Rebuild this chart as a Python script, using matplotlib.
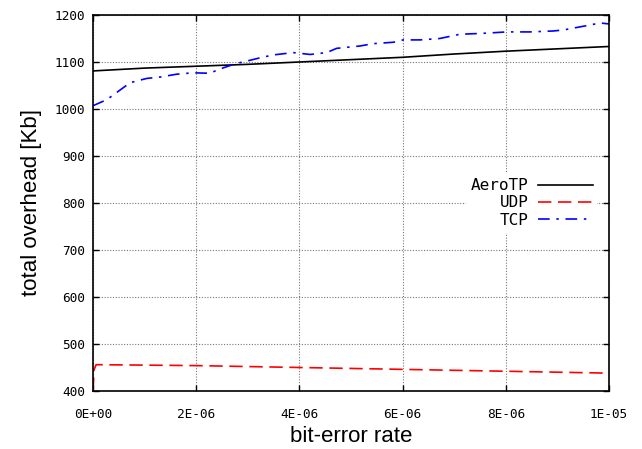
import matplotlib
matplotlib.use('Agg')
import matplotlib.pyplot as plt

aerotp_ber = [0, 1e-6, 2e-6, 3e-6, 4e-6, 5e-6, 6e-6, 7e-6, 8e-6, 9e-6, 1e-5]
aerotp_kb = [1081, 1087, 1091, 1095, 1100, 1105, 1110, 1117, 1123, 1128, 1133]

udp_ber = [0, 0.02e-6, 0.06e-6, 2e-6, 4e-6, 6e-6, 8e-6, 1e-5]
udp_kb = [400, 445, 456, 454, 450, 446, 442, 438]

tcp_ber = [0, 0.27e-6, 0.52e-6, 0.72e-6, 1.04e-6, 1.3e-6, 1.62e-6, 1.94e-6,
           2.27e-6, 2.43e-6, 2.78e-6, 2.91e-6, 3.24e-6, 3.49e-6, 3.88e-6,
           4.21e-6, 4.53e-6, 4.72e-6, 5.17e-6, 5.43e-6, 5.82e-6, 6.01e-6,
           6.34e-6, 6.72e-6, 7.11e-6, 7.56e-6, 8.02e-6, 8.47e-6, 8.92e-6,
           9.11e-6, 9.5e-6, 9.83e-6, 1e-5]
tcp_kb = [1007, 1020, 1040, 1056, 1065, 1068, 1074, 1077,
          1076, 1084, 1097, 1100, 1109, 1115, 1120,
          1116, 1120, 1129, 1134, 1139, 1142, 1147,
          1147, 1150, 1159, 1161, 1164, 1164, 1166,
          1168, 1176, 1183, 1181]

xtick_vals = [0, 2e-6, 4e-6, 6e-6, 8e-6, 1e-5]
xtick_labels = ['0E+00', '2E-06', '4E-06', '6E-06', '8E-06', '1E-05']
ytick_vals = [400, 500, 600, 700, 800, 900, 1000, 1100, 1200]

fig = plt.figure(figsize=(6.42, 4.49), dpi=100)
ax = fig.add_axes([0.1449, 0.1292, 0.8037, 0.8374])

ax.plot(aerotp_ber, aerotp_kb, color='black', lw=1.2, label='AeroTP')
ax.plot(udp_ber, udp_kb, color='red', lw=1.2, dashes=(8, 4), label='UDP')
ax.plot(tcp_ber, tcp_kb, color='blue', lw=1.2, dashes=(7, 4, 1.5, 4),
        label='TCP')

ax.set_xlim(0, 1e-5)
ax.set_ylim(400, 1200)
ax.set_xticks(xtick_vals)
ax.set_xticklabels(xtick_labels)
ax.set_yticks(ytick_vals)
for lab in ax.get_xticklabels() + ax.get_yticklabels():
    lab.set_family('DejaVu Sans Mono')
    lab.set_fontsize(9.2)

ax.tick_params(direction='in', top=True, right=True, length=4, width=1)
ax.tick_params(axis='x', pad=12)
ax.tick_params(axis='y', pad=6)
ax.grid(True, color='#777777', linestyle=(0, (1, 1.5)), lw=0.8)
for s in ax.spines.values():
    s.set_linewidth(1.2)

ax.set_xlabel('bit-error rate', family='Liberation Sans', fontsize=16,
              labelpad=4)
ax.set_ylabel('total overhead [Kb]', family='Liberation Sans', fontsize=16,
              labelpad=9)

leg = ax.legend(loc='center right', bbox_to_anchor=(0.993, 0.5),
                markerfirst=False, frameon=True, fancybox=False,
                handlelength=3.4, handletextpad=0.6, labelspacing=0.15,
                borderpad=0.3,
                prop={'family': 'DejaVu Sans Mono', 'size': 11.5})
leg.get_frame().set_edgecolor('none')
leg.get_frame().set_facecolor('white')
leg.get_frame().set_alpha(1)

fig.savefig('out.png', dpi=100)
